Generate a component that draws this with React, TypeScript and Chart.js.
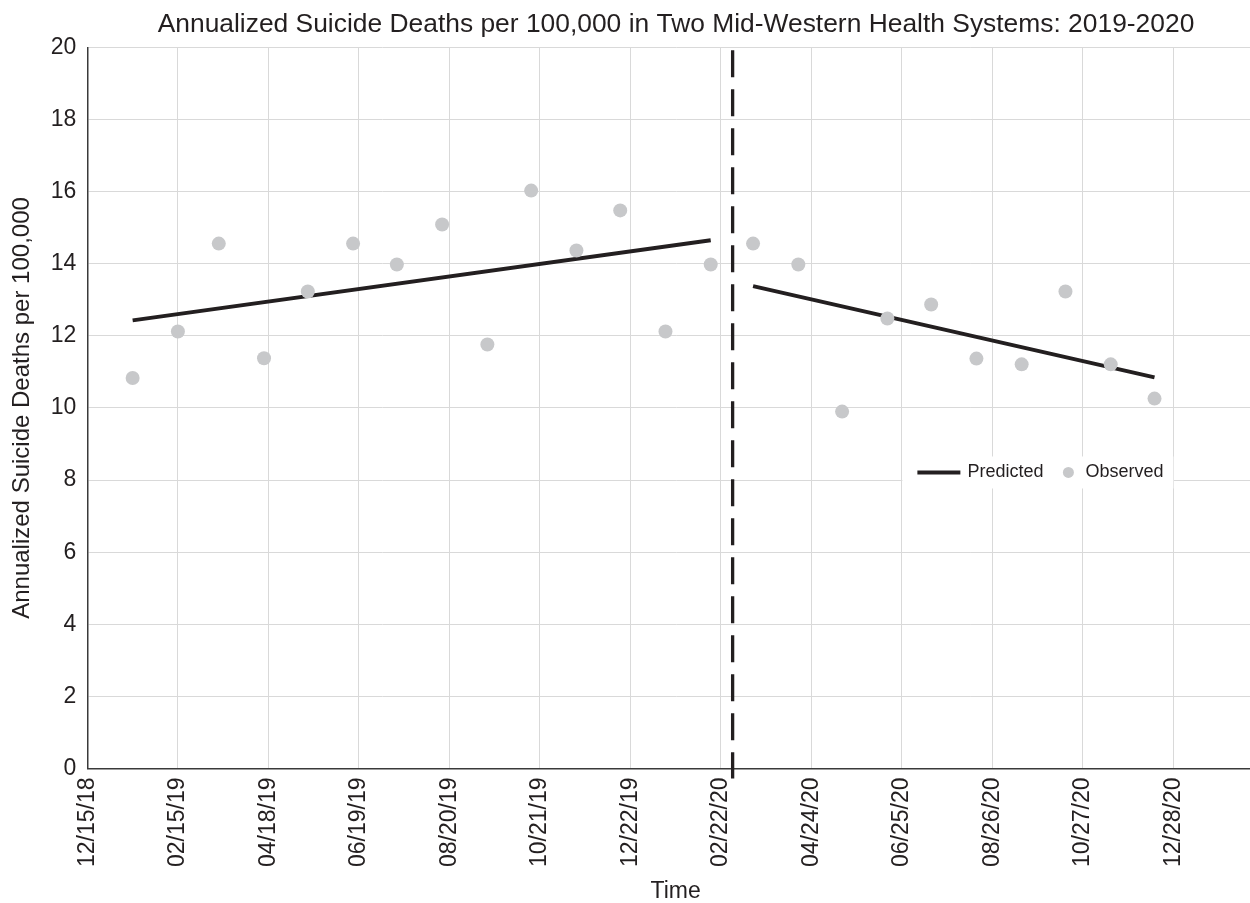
import React, { useEffect, useRef } from "react";
import { Chart, registerables } from "chart.js";

Chart.register(...registerables);

// ---------- data ----------
const axisStartDate = "2018-12-15";
const axisEndDate = "2021-02-28";

const tickLabels = [
  "12/15/18", "02/15/19", "04/18/19", "06/19/19", "08/20/19", "10/21/19", "12/22/19",
  "02/22/20", "04/24/20", "06/25/20", "08/26/20", "10/27/20", "12/28/20",
];

const observedDates = [
  "2019-01-15", "2019-02-15", "2019-03-15", "2019-04-15", "2019-05-15", "2019-06-15",
  "2019-07-15", "2019-08-15", "2019-09-15", "2019-10-15", "2019-11-15", "2019-12-15",
  "2020-01-15", "2020-02-15", "2020-03-15", "2020-04-15", "2020-05-15", "2020-06-15",
  "2020-07-15", "2020-08-15", "2020-09-15", "2020-10-15", "2020-11-15", "2020-12-15",
];
const observedValues = [
  10.83, 12.12, 14.56, 11.38, 13.23, 14.56, 13.98, 15.09, 11.76, 16.03, 14.37, 15.48,
  12.12, 13.98, 14.56, 13.98, 9.9, 12.48, 12.87, 11.37, 11.21, 13.23, 11.21, 10.26,
];

const predictedDates = ["2019-01-15", "2020-02-15", "2020-03-01", "2020-03-15", "2020-12-15"];
const predictedValues: (number | null)[] = [12.43, 14.65, null, 13.38, 10.85];

const interventionDate = "2020-03-01";
const interventionSpan = [19.92, -0.28];

const titleText = "Annualized Suicide Deaths per 100,000 in Two Mid-Western Health Systems: 2019-2020";
const yTitle = "Annualized Suicide Deaths per 100,000";
const xTitle = "Time";

// ---------- helpers ----------
const DAY = 86400000;
function toUTC(iso: string) {
  const [y, m, d] = iso.split("-").map(Number);
  return Date.UTC(y, m - 1, d);
}
const base = toUTC(axisStartDate);
const dayOf = (iso: string) => (toUTC(iso) - base) / DAY;
const labelToIso = (lbl: string) => {
  const [m, d, y] = lbl.split("/");
  return `20${y}-${m}-${d}`;
};
const tickValues = tickLabels.map((l) => dayOf(labelToIso(l)));

const INK = "#231f20";
const FONT = "'Liberation Sans', Arial, Helvetica, sans-serif";

const legendPlugin = {
  id: "insideLegend",
  afterDraw(chart: any) {
    const { ctx, chartArea } = chart;
    const left = chartArea.left + 815;
    const top = chartArea.top + 409;
    const w = 271;
    const h = 32;
    const cy = top + h / 2;
    ctx.save();
    ctx.fillStyle = "#ffffff";
    ctx.fillRect(left, top, w, h);
    const pred = chart.data.datasets[1];
    const obs = chart.data.datasets[0];
    ctx.strokeStyle = pred.borderColor;
    ctx.lineWidth = 4;
    ctx.beginPath();
    ctx.moveTo(left + 15, cy);
    ctx.lineTo(left + 58, cy);
    ctx.stroke();
    ctx.fillStyle = INK;
    ctx.font = `18px ${FONT}`;
    ctx.textBaseline = "middle";
    ctx.textAlign = "left";
    ctx.fillText(pred.label, left + 65, cy);
    ctx.fillStyle = obs.pointBackgroundColor;
    ctx.beginPath();
    ctx.arc(left + 166, cy, 5.5, 0, Math.PI * 2);
    ctx.fill();
    ctx.fillStyle = INK;
    ctx.fillText(obs.label, left + 183, cy);
    ctx.restore();
  },
};

export default function App() {
  const ref = useRef<HTMLCanvasElement | null>(null);

  useEffect(() => {
    document.body.style.margin = "0";
    if (!ref.current) return;
    Chart.defaults.font.family = FONT;
    Chart.defaults.color = INK;

    const chart = new Chart(ref.current, {
      type: "line",
      data: {
        datasets: [
          {
            label: "Observed",
            data: observedDates.map((d, i) => ({ x: dayOf(d), y: observedValues[i] })),
            showLine: false,
            pointRadius: 7,
            pointBackgroundColor: "#c7c8ca",
            pointBorderWidth: 0,
            pointHoverRadius: 7,
            order: 0,
          } as any,
          {
            label: "Predicted",
            data: predictedDates.map((d, i) => ({ x: dayOf(d), y: predictedValues[i] })),
            borderColor: INK,
            borderWidth: 4,
            pointRadius: 0,
            spanGaps: false,
            order: 1,
          } as any,
          {
            label: "Intervention",
            data: interventionSpan.map((v) => ({ x: dayOf(interventionDate), y: v })),
            borderColor: INK,
            borderWidth: 3.3,
            borderDash: [27, 12],
            pointRadius: 0,
            clip: false,
            order: 2,
          } as any,
        ],
      },
      options: {
        responsive: false,
        animation: false,
        events: [],
        layout: { padding: 0 },
        plugins: {
          legend: { display: false },
          tooltip: { enabled: false },
          title: {
            display: true,
            text: titleText,
            color: INK,
            font: { size: 26.4, weight: "normal", family: FONT },
            padding: { top: 9, bottom: 6.8 },
          },
        },
        scales: {
          x: {
            type: "linear",
            min: 0,
            max: dayOf(axisEndDate),
            afterBuildTicks: (axis: any) => {
              axis.ticks = tickValues.map((v) => ({ value: v }));
            },
            ticks: {
              autoSkip: false,
              minRotation: 90,
              maxRotation: 90,
              padding: 9,
              color: INK,
              font: { size: 23, family: FONT },
              callback: (v: any) => {
                const i = tickValues.indexOf(Number(v));
                return i >= 0 ? tickLabels[i] : "";
              },
            },
            grid: { color: "#d9d9d9", lineWidth: 1, drawTicks: false },
            border: { color: "#3a3a3a", width: 1.5 },
            title: {
              display: true,
              text: xTitle,
              color: INK,
              font: { size: 23, family: FONT, lineHeight: 1 },
              padding: { top: 4, bottom: 0 },
            },
          },
          y: {
            min: 0,
            max: 20,
            ticks: {
              stepSize: 2,
              padding: 11,
              color: INK,
              font: { size: 23, family: FONT },
            },
            grid: { color: "#d9d9d9", lineWidth: 1, drawTicks: false },
            border: { color: "#3a3a3a", width: 1.5 },
            title: {
              display: true,
              text: yTitle,
              color: INK,
              font: { size: 24, family: FONT },
              padding: { top: 8, bottom: 3 },
            },
          },
          yRightSpace: {
            position: "right",
            display: true,
            min: 0,
            max: 20,
            ticks: { display: false },
            grid: { display: false, drawTicks: false },
            border: { display: false },
            afterFit: (scale: any) => {
              scale.width = 88;
            },
          },
        },
      } as any,
      plugins: [legendPlugin],
    });
    return () => chart.destroy();
  }, []);

  return (
    <div style={{ width: 1250, height: 903, overflow: "hidden", background: "#fff" }}>
      <canvas ref={ref} width={1352} height={903} style={{ display: "block" }} />
    </div>
  );
}
